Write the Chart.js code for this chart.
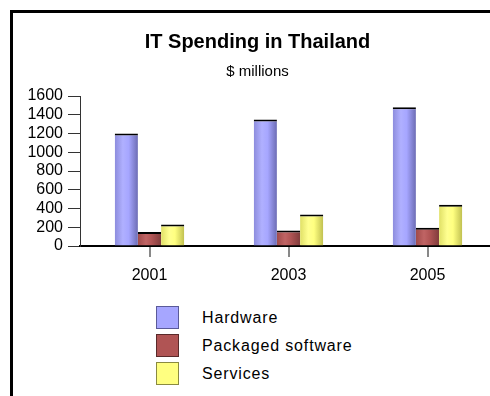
<!DOCTYPE html>
<html>
<head>
<meta charset="utf-8">
<script src="https://cdn.jsdelivr.net/npm/chart.js@4/dist/chart.umd.min.js"></script>
<style>
  html, body { margin: 0; padding: 0; background: #fff; overflow: hidden; }
  body { width: 490px; height: 396px; position: relative; font-family: "Liberation Sans", Arial, sans-serif; }
  #frame { position: absolute; left: 10px; top: 10px; width: 490px; height: 400px;
           border-top: 3px solid #000; border-left: 3px solid #000; box-sizing: border-box; }
  #wrap { position: absolute; left: 0; top: 0; width: 515px; height: 291px; }
  #legend { position: absolute; left: 156px; top: 306px; }
  .item { height: 28px; position: relative; }
  .box { position: absolute; left: 0; top: 0; width: 21px; height: 21px; border: 1px solid #333; }
  .label { position: absolute; left: 46px; top: 3px; font-size: 16px; color: #000; white-space: nowrap; letter-spacing: 0.85px; }
</style>
</head>
<body>
<div id="frame"></div>
<div id="wrap"><canvas id="chart"></canvas></div>
<div id="legend"></div>
<script>
var years = ['2001', '2003', '2005'];
var hardware = [1200, 1350, 1480];
var packagedSoftware = [150, 165, 195];
var services = [230, 335, 440];
var yTicks = [0, 200, 400, 600, 800, 1000, 1200, 1400, 1600];

// base fill, light highlight, shadow edge, legend border
var shades = [
    { fill: '#a6a6ff', light: '#b0b0ff', dark: '#6c6cb4', left: '#8c8cdc', edge: '#5a5a99' },
    { fill: '#b05454', light: '#c06464', dark: '#803c3c', left: '#a04a4a', edge: '#5a2a2a' },
    { fill: '#ffff80', light: '#ffff90', dark: '#c0c050', left: '#e0e066', edge: '#8a8a40' }
];

// cylinder-ish shading across each bar
var barShading = {
    id: 'barShading',
    beforeDatasetsDraw: function(chart) {
        var ctx = chart.ctx;
        chart.data.datasets.forEach(function(ds, i) {
            var meta = chart.getDatasetMeta(i);
            var s = shades[i];
            meta.data.forEach(function(bar) {
                var x0 = bar.x - bar.width / 2;
                var x1 = bar.x + bar.width / 2;
                var grad = ctx.createLinearGradient(x0, 0, x1, 0);
                grad.addColorStop(0, s.left);
                grad.addColorStop(0.35, s.light);
                grad.addColorStop(0.6, s.fill);
                grad.addColorStop(1, s.dark);
                bar.options = Object.assign({}, bar.options, { backgroundColor: grad });
            });
        });
    }
};

function makeDataset(label, values, i) {
    return {
        label: label,
        data: values,
        backgroundColor: shades[i].fill,
        borderColor: '#000',
        borderWidth: { top: 2, left: 0, right: 0, bottom: 0 },
        borderSkipped: 'bottom',
        categoryPercentage: 0.5,
        barPercentage: 1.0
    };
}

var ctx = document.getElementById('chart');
var chart = new Chart(ctx, {
    type: 'bar',
    data: {
        labels: years,
        datasets: [
            makeDataset('Hardware', hardware, 0),
            makeDataset('Packaged software', packagedSoftware, 1),
            makeDataset('Services', services, 2)
        ]
    },
    options: {
        responsive: true,
        maintainAspectRatio: false,
        animation: false,
        layout: { padding: { left: 18, right: 18, top: 0, bottom: 0 } },
        plugins: {
            legend: { display: false },
            tooltip: { enabled: false },
            title: {
                display: true,
                text: 'IT Spending in Thailand',
                color: '#000',
                font: { family: '"Liberation Sans", Arial', size: 20, weight: 'bold' },
                padding: { top: 30, bottom: 9 }
            },
            subtitle: {
                display: true,
                text: '$ millions',
                color: '#000',
                font: { family: '"Liberation Sans", Arial', size: 15 },
                padding: { top: 0, bottom: 15 }
            }
        },
        scales: {
            x: {
                offset: true,
                afterFit: function(scale) { scale.height = 45; },
                grid: { drawOnChartArea: false, drawTicks: true, tickLength: 11, offset: false, color: '#888', lineWidth: 2 },
                border: { display: true, color: '#000', width: 2 },
                ticks: { color: '#000', padding: 9, font: { family: '"Liberation Sans", Arial', size: 16 } }
            },
            y: {
                min: 0,
                max: 1600,
                afterFit: function(scale) { scale.width = 62; },
                afterBuildTicks: function(scale) {
                    scale.ticks = yTicks.map(function(v) { return { value: v }; });
                },
                grid: { drawOnChartArea: false, drawTicks: true, tickLength: 12, color: '#333', lineWidth: 1 },
                border: { display: true, color: '#333', width: 1 },
                ticks: {
                    color: '#000',
                    padding: 5,
                    autoSkip: false,
                    font: { family: '"Liberation Sans", Arial', size: 16 },
                    callback: function(value) { return String(value); }
                }
            }
        }
    },
    plugins: [barShading]
});

// legend as a vertical list under the plot
var legendEl = document.getElementById('legend');
chart.data.datasets.forEach(function(ds, i) {
    var item = document.createElement('div');
    item.className = 'item';
    var box = document.createElement('div');
    box.className = 'box';
    box.style.background = shades[i].fill;
    box.style.borderColor = shades[i].edge;
    var label = document.createElement('div');
    label.className = 'label';
    label.textContent = ds.label;
    item.appendChild(box);
    item.appendChild(label);
    legendEl.appendChild(item);
});
</script>
</body>
</html>
